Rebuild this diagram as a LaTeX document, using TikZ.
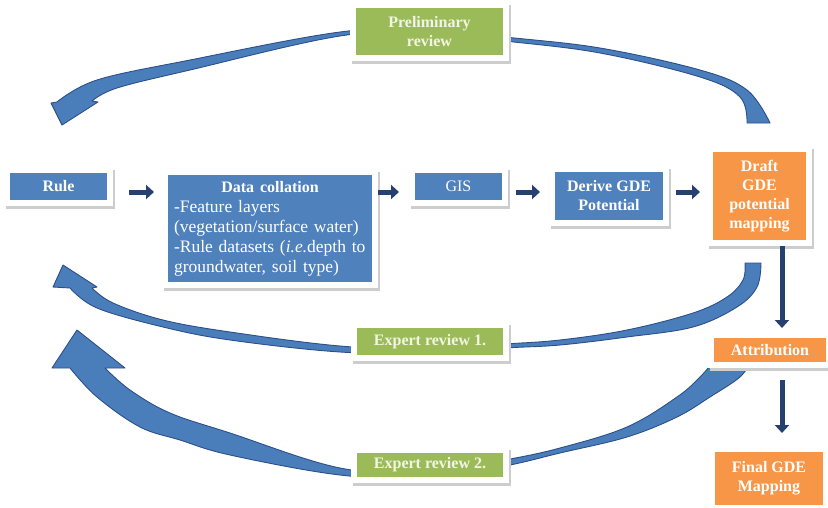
\documentclass[tikz,border=0pt]{standalone}
\usepackage{fontspec}
\setmainfont{Liberation Serif}
\usetikzlibrary{arrows.meta}
\definecolor{boxblue}{RGB}{79,129,189}
\definecolor{boxorange}{RGB}{247,150,70}
\definecolor{boxgreen}{RGB}{155,187,89}
\definecolor{greentext}{RGB}{242,245,228}
\definecolor{arcfill}{RGB}{74,126,187}
\definecolor{arcedge}{RGB}{44,78,138}
\definecolor{navy}{RGB}{38,64,112}
\definecolor{shadowgray}{RGB}{205,205,205}
\tikzset{
  framed/.style={draw=white, line width=6pt, inner sep=0pt, align=center, text=white,
    font=\bfseries\fontsize{16}{19}\selectfont,
    preaction={draw=shadowgray, fill=shadowgray, line width=6pt,
      transform canvas={xshift=1.5pt, yshift=-3pt}}},
  bluebox/.style={framed, fill=boxblue},
  orangebox/.style={framed, fill=boxorange},
  greenbox/.style={framed, fill=boxgreen, text=greentext},
  flow/.style={draw=navy, line width=5pt, -{Triangle[length=8pt, width=14pt]}},
  bigarc/.style={fill=arcfill, draw=arcedge, line width=0.9pt, line join=round}
}
\begin{document}
\begin{tikzpicture}[x=1pt, y=-1pt]
\useasboundingbox (0,0) rectangle (828,507);

% big curved arrows (drawn first, boxes lie on top)
\filldraw[bigarc]
  plot[smooth, tension=0.6] coordinates {(770,123) (747,90) (700,70) (600,48) (505,37) (430,29) (340,32) (190,60) (97,80) (57,102)}
  -- (51,103) -- (62,125) -- (98,102) -- (92,101)
  -- plot[smooth, tension=0.6] coordinates {(92,101) (117,88) (190,70) (340,36) (430,33) (505,41) (600,53) (700,77) (740,97) (747,123)}
  -- cycle;

\filldraw[bigarc]
  plot[smooth, tension=0.6] coordinates {(761,263) (757,287) (737,307) (693,327) (627,337) (560,345) (505,348) (430,353) (340,352) (230,340) (163,327) (97,308) (70,288)}
  -- (53,287) -- (63,265) -- (97,287) -- (92,288)
  -- plot[smooth, tension=0.6] coordinates {(92,288) (113,303) (163,320) (230,332) (340,346) (430,349) (505,344) (560,340) (627,330) (693,313) (727,297) (743,280) (745,263)}
  -- cycle;

\filldraw[bigarc]
  plot[smooth, tension=0.6] coordinates {(750,362) (740,377) (710,397) (677,417) (627,437) (560,453) (505,466) (430,478) (340,475) (230,455) (180,440) (140,427) (97,397) (70,368)}
  -- (52,368) -- (77,330) -- (125,368) -- (105,368)
  -- plot[smooth, tension=0.6] coordinates {(105,368) (130,390) (170,413) (230,433) (340,468) (430,473) (505,460) (560,448) (627,427) (677,397) (700,377) (713,362)}
  -- cycle;

% boxes
\node[bluebox, minimum width=103pt, minimum height=33pt] (rule) at (58.5,186.5) {Rule};
\node[bluebox, minimum width=210pt, minimum height=113pt, text width=192pt, align=left,
      font=\fontsize{17.5}{20}\selectfont] (data) at (270,228.5)
  {\makebox[192pt]{\fontsize{16}{20}\selectfont\bfseries Data collation}\\-Feature layers\\(vegetation/surface water)\\-Rule datasets (\textit{i.e.}depth to\\groundwater, soil type)};
\node[bluebox, minimum width=93pt, minimum height=33pt, font=\fontsize{16}{19}\selectfont] (gis) at (458.5,186.5) {GIS};
\node[bluebox, minimum width=114pt, minimum height=54pt] (derive) at (609,196) {Derive GDE\\Potential};
\node[orangebox, minimum width=99pt, minimum height=94pt] (draft) at (759.5,196) {Draft\\GDE\\potential\\mapping};
\node[orangebox, minimum width=118pt, minimum height=30pt] (attr) at (770,350) {Attribution};
\node[orangebox, minimum width=114pt, minimum height=59pt] (final) at (769,478.5) {Final GDE\\Mapping};
\node[greenbox, minimum width=153pt, minimum height=53pt] (prelim) at (429.5,31.5) {Preliminary\\review};
\node[greenbox, minimum width=152pt, minimum height=33pt] (exp1) at (430,341.5) {Expert review 1.};
\node[greenbox, minimum width=152pt, minimum height=30pt] (exp2) at (430,465) {Expert review 2.};

% straight connectors
\coordinate (row) at (0,192);
\coordinate (col) at (782,0);
\draw[flow, shorten <=16pt, shorten >=8pt] (rule.east |- row) -- (data.west |- row);
\draw[flow, shorten <=0pt, shorten >=10pt] (data.east |- row) -- (gis.west |- row);
\draw[flow, shorten <=8pt, shorten >=9pt] (gis.east |- row) -- (derive.west |- row);
\draw[flow, shorten <=7pt, shorten >=7pt] (derive.east |- row) -- (draft.west |- row);
\draw[flow, shorten <=0pt, shorten >=4pt] (draft.south -| col) -- (attr.north -| col);
\draw[flow, shorten <=12pt, shorten >=13pt] (attr.south -| col) -- (final.north -| col);
\end{tikzpicture}
\end{document}
